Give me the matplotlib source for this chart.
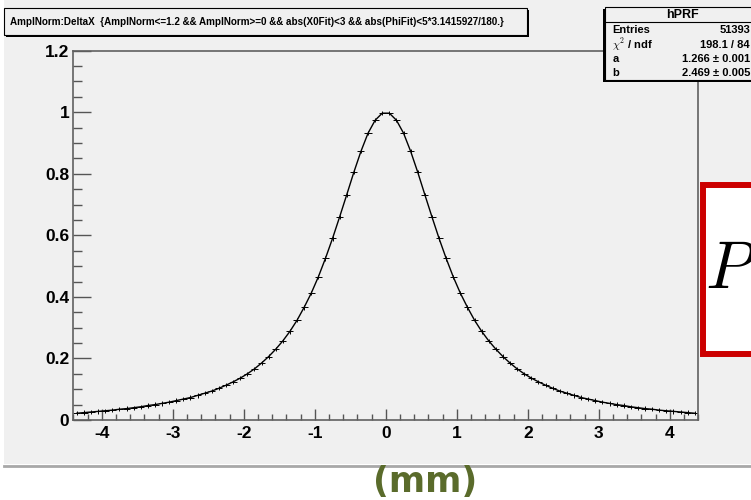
import numpy as np
import matplotlib.pyplot as plt
from matplotlib.patches import Rectangle
from matplotlib.lines import Line2D
from matplotlib.ticker import MultipleLocator, FormatStrFormatter

W, H = 751, 500

# histogram binning (88 bins from -4.4 to 4.4)
x_lo, x_hi, n_bins = -4.4, 4.4, 88

# normalised amplitude per bin
ampl = [0.022, 0.024, 0.026, 0.028, 0.030, 0.032, 0.035, 0.037, 0.040, 0.043,
        0.047, 0.050, 0.054, 0.058, 0.063, 0.068, 0.073, 0.080, 0.087, 0.094,
        0.103, 0.113, 0.124, 0.136, 0.150, 0.166, 0.185, 0.206, 0.230, 0.257,
        0.288, 0.324, 0.366, 0.412, 0.465, 0.525, 0.590, 0.660, 0.732, 0.805,
        0.873, 0.932, 0.974, 0.997,
        0.997, 0.974, 0.932, 0.873, 0.805, 0.732, 0.660, 0.590, 0.525, 0.465,
        0.412, 0.366, 0.324, 0.288, 0.257, 0.230, 0.206, 0.185, 0.166, 0.150,
        0.136, 0.124, 0.113, 0.103, 0.094, 0.087, 0.080, 0.073, 0.068, 0.063,
        0.058, 0.054, 0.050, 0.047, 0.043, 0.040, 0.037, 0.035, 0.032, 0.030,
        0.028, 0.026, 0.024, 0.022]
ampl_err = 0.007

title_txt = ("AmplNorm:DeltaX  {AmplNorm<=1.2 && AmplNorm>=0 && abs(X0Fit)<3 "
             "&& abs(PhiFit)<5*3.1415927/180.}")
stat_names = ["Entries", r"$\chi^2$ / ndf", "a", "b"]
stat_vals = ["51393", "198.1 / 84", "1.266 \u00b1 0.001", "2.469 \u00b1 0.005"]

GRAY = "#f0f0f0"
ROOTFONT = "Liberation Sans"
plt.rcParams["mathtext.fontset"] = "cm"
plt.rcParams["axes.unicode_minus"] = False


def fx(x):
    return x / W


def fy(y):
    return 1 - y / H


fig = plt.figure(figsize=(W / 100, H / 100), dpi=100)
fig.patch.set_facecolor("white")

# canvas background + bottom edge
fig.patches.append(Rectangle((fx(4), fy(464)), 1, 1, transform=fig.transFigure,
                             facecolor=GRAY, edgecolor="none", zorder=-5))
fig.lines.append(Line2D([fx(4), 1], [fy(465.5), fy(465.5)], transform=fig.transFigure,
                        color="#a8a8a8", lw=2, zorder=-4))

ax = fig.add_axes([fx(73.3), fy(420), fx(698.3) - fx(73.3), fy(50.7) - fy(420)])
ax.set_facecolor(GRAY)
ax.set_zorder(1)

edges = np.linspace(x_lo, x_hi, n_bins + 1)
centers = 0.5 * (edges[:-1] + edges[1:])
half_w = 0.5 * (edges[1] - edges[0])

ax.plot(centers, ampl, color="black", lw=1.0)
ax.errorbar(centers, ampl, xerr=half_w, yerr=ampl_err, fmt="none",
            ecolor="black", elinewidth=0.7)

ax.set_xlim(x_lo, x_hi)
ax.set_ylim(0, 1.2)
ax.xaxis.set_major_locator(MultipleLocator(1))
ax.xaxis.set_minor_locator(MultipleLocator(0.2))
ax.yaxis.set_major_locator(MultipleLocator(0.2))
ax.yaxis.set_minor_locator(MultipleLocator(0.05))
ax.yaxis.set_major_formatter(FormatStrFormatter("%g"))
ax.tick_params(axis="x", which="major", direction="in", length=8, width=1,
               color="#555555", pad=4.5)
ax.tick_params(axis="x", which="minor", direction="in", length=4.3, width=1,
               color="#555555")
ax.tick_params(axis="y", which="major", direction="in", length=13, width=1,
               color="#555555", pad=3)
ax.tick_params(axis="y", which="minor", direction="in", length=6.3, width=1,
               color="#555555")
for lab in ax.get_xticklabels() + ax.get_yticklabels():
    lab.set_family(ROOTFONT)
    lab.set_fontweight("bold")
    lab.set_fontsize(12.5)
for s in ax.spines.values():
    s.set_color("#606060")
    s.set_linewidth(1.2)

# title box with shadow
tb_x0, tb_y0, tb_x1, tb_y1 = 4, 8, 527, 35
fig.patches.append(Rectangle((fx(tb_x0 + 2), fy(tb_y1 + 2)), fx(tb_x1 - tb_x0), (tb_y1 - tb_y0) / H,
                             transform=fig.transFigure, facecolor="black", edgecolor="none", zorder=2))
fig.patches.append(Rectangle((fx(tb_x0), fy(tb_y1)), fx(tb_x1 - tb_x0), (tb_y1 - tb_y0) / H,
                             transform=fig.transFigure, facecolor=GRAY, edgecolor="black",
                             lw=0.8, zorder=3))
fig.text(fx(10), fy(22), title_txt, family=ROOTFONT, fontweight="bold", fontsize=7.1,
         ha="left", va="center", zorder=4)

# stats box
sb_x0, sb_y0, sb_y1 = 604.5, 7, 80
fig.patches.append(Rectangle((fx(sb_x0 - 1.5), fy(sb_y1 + 2)), 1, (sb_y1 - sb_y0) / H,
                             transform=fig.transFigure, facecolor="black", edgecolor="none", zorder=5))
fig.patches.append(Rectangle((fx(sb_x0), fy(sb_y1)), 1, (sb_y1 - sb_y0) / H,
                             transform=fig.transFigure, facecolor=GRAY, edgecolor="black",
                             lw=0.8, zorder=6))
fig.lines.append(Line2D([fx(sb_x0), 1], [fy(21.7), fy(21.7)], transform=fig.transFigure,
                        color="black", lw=0.8, zorder=7))
fig.text(fx(682), fy(14.5), "hPRF", family=ROOTFONT, fontweight="bold", fontsize=9,
         ha="center", va="center", zorder=8)
row_y = [30, 44.5, 59, 73]
for name, val, yy in zip(stat_names, stat_vals, row_y):
    fig.text(fx(612.5), fy(yy), name, family=ROOTFONT, fontweight="bold", fontsize=8,
             ha="left", va="center", zorder=8)
    fig.text(fx(750), fy(yy), val, family=ROOTFONT, fontweight="bold", fontsize=8,
             ha="right", va="center", zorder=8)

# red formula box, cut off by the right edge (as in the reference)
fig.patches.append(Rectangle((fx(703), fy(353.7)), fx(80), (353.7 - 184.7) / H,
                             transform=fig.transFigure, facecolor="white", edgecolor="#cc0000",
                             lw=4.3, zorder=9))
fig.text(fx(705), fy(288), r"$P$", fontsize=48, ha="left", va="baseline", zorder=10)

# axis unit below the canvas
fig.text(fx(425), fy(482), "(mm)", family="DejaVu Sans", fontweight="bold", fontsize=25,
         color="#5a6b2b", ha="center", va="center")

fig.savefig("out.png", dpi=100)
